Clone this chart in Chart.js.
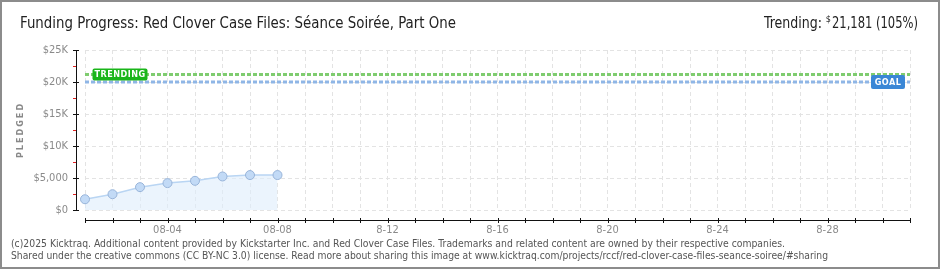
<!DOCTYPE html>
<html>
<head>
<meta charset="utf-8">
<script src="https://cdn.jsdelivr.net/npm/chart.js@4"></script>
<style>
  html, body { margin: 0; padding: 0; background: #fff; }
  #wrap { width: 940px; height: 270px; position: relative; }
</style>
</head>
<body>
<div id="wrap"><canvas id="chart" width="940" height="270"></canvas></div>
<script>
'use strict';

// ===== DATA =====
const days = [];
for (let d = 1; d <= 31; d++) days.push('08-' + String(d).padStart(2, '0'));

const pledged = [1680, 2470, 3570, 4200, 4560, 5240, 5460, 5460];
const goal = 20000;
const trending = 21181;

const yTickLabels = ['$0', '$5,000', '$10K', '$15K', '$20K', '$25K'];
const xTickLabels = ['08-04', '08-08', '8-12', '8-16', '8-20', '8-24', '8-28'];

const titleText = 'Funding Progress: Red Clover Case Files: Séance Soirée, Part One';
const footerLines = [
  '(c)2025 Kicktraq. Additional content provided by Kickstarter Inc. and Red Clover Case Files. Trademarks and related content are owned by their respective companies.',
  'Shared under the creative commons (CC BY-NC 3.0) license. Read more about sharing this image at www.kicktraq.com/projects/rccf/red-clover-case-files-seance-soiree/#sharing'
];

const AXIS_FONT = "'DejaVu Sans Condensed', 'DejaVu Sans', sans-serif";

// ===== DECORATION PLUGIN =====
function drawTag(ctx, text, cx, cy, w, h, color) {
  ctx.save();
  ctx.fillStyle = color;
  ctx.beginPath();
  ctx.roundRect(cx - w / 2, cy - h / 2, w, h, 2);
  ctx.fill();
  ctx.fillStyle = '#fff';
  ctx.font = 'bold 9px ' + AXIS_FONT;
  ctx.textAlign = 'center';
  ctx.textBaseline = 'middle';
  ctx.letterSpacing = '0.5px';
  ctx.fillText(text, cx, cy + 0.5);
  ctx.restore();
}

const kicktraqDecor = {
  id: 'kicktraqDecor',
  afterDraw(chart) {
    const ctx = chart.ctx;
    const xs = chart.scales.x;
    const ys = chart.scales.y;
    const area = chart.chartArea;

    ctx.save();

    // axes (black lines + ticks)
    const axisX = area.left - 9;
    ctx.strokeStyle = '#111';
    ctx.lineWidth = 1;
    ctx.beginPath();
    ctx.moveTo(axisX + 0.5, ys.getPixelForValue(25000));
    ctx.lineTo(axisX + 0.5, ys.getPixelForValue(0));
    ys.ticks.forEach(t => {
      const y = Math.round(ys.getPixelForValue(t.value)) + 0.5;
      ctx.moveTo(axisX - 3, y);
      ctx.lineTo(axisX + 3, y);
    });
    ctx.stroke();
    ctx.strokeStyle = '#e02020';
    ctx.beginPath();
    for (let v = 2500; v < 25000; v += 5000) {
      const y = Math.round(ys.getPixelForValue(v)) + 0.5;
      ctx.moveTo(axisX - 3, y);
      ctx.lineTo(axisX, y);
    }
    ctx.stroke();

    const axisY = area.bottom + 10;
    ctx.strokeStyle = '#111';
    ctx.beginPath();
    ctx.moveTo(area.left, axisY + 0.5);
    ctx.lineTo(area.right, axisY + 0.5);
    days.forEach((d, i) => {
      const x = Math.round(xs.getPixelForValue(i)) + 0.5;
      ctx.moveTo(x, axisY - 2);
      ctx.lineTo(x, axisY + 3);
    });
    ctx.stroke();

    // tags
    drawTag(ctx, 'TRENDING', area.left + 35, ys.getPixelForValue(trending), 55, 12, '#1ab51a');
    drawTag(ctx, 'GOAL', area.right - 22, ys.getPixelForValue(goal), 34, 14, '#3a87d6');

    // title + trending text
    ctx.fillStyle = '#222';
    ctx.textBaseline = 'alphabetic';
    ctx.font = '15px ' + AXIS_FONT;
    ctx.textAlign = 'left';
    ctx.fillText(titleText, 20, 28, 436);

    ctx.textAlign = 'right';
    const tail = '21,181 (105%)';
    ctx.fillText(tail, 918, 28, 86);
    const tailW = Math.min(ctx.measureText(tail).width, 86);
    ctx.font = '9px ' + AXIS_FONT;
    ctx.fillText('$', 918 - tailW - 1, 22);
    ctx.font = '15px ' + AXIS_FONT;
    ctx.fillText('Trending:', 918 - tailW - 10, 28, 58);

    // PLEDGED
    ctx.save();
    ctx.translate(23, (area.top + area.bottom) / 2);
    ctx.rotate(-Math.PI / 2);
    ctx.fillStyle = '#888';
    ctx.font = 'bold 9px ' + AXIS_FONT;
    ctx.letterSpacing = '2px';
    ctx.textAlign = 'center';
    ctx.fillText('PLEDGED', 0, 0);
    ctx.restore();

    // footer
    ctx.fillStyle = '#555';
    ctx.textAlign = 'left';
    ctx.font = "10px 'DejaVu Sans', sans-serif";
    ctx.fillText(footerLines[0], 11, 247, 774);
    ctx.fillText(footerLines[1], 11, 259, 817);

    // frame
    ctx.strokeStyle = '#8c8c8c';
    ctx.lineWidth = 2;
    ctx.strokeRect(1, 1, 938, 267);

    ctx.restore();
  }
};

// ===== CHART =====
new Chart(document.getElementById('chart'), {
  type: 'line',
  data: {
    labels: days,
    datasets: [
      {
        label: 'Pledged',
        data: pledged,
        borderColor: '#b9d5f3',
        borderWidth: 1.5,
        backgroundColor: 'rgba(222,236,252,0.6)',
        fill: 'origin',
        tension: 0,
        pointRadius: 4.5,
        pointBackgroundColor: '#c2daf6',
        pointBorderColor: '#98b4d9',
        pointBorderWidth: 1,
        order: 1
      },
      {
        label: 'Trending',
        data: days.map(() => trending),
        borderColor: '#7fcc6f',
        borderWidth: 3,
        borderDash: [4, 2],
        pointRadius: 0,
        fill: false,
        order: 2
      },
      {
        label: 'Goal',
        data: days.map(() => goal),
        borderColor: '#8fb6e6',
        borderWidth: 3,
        borderDash: [4, 2],
        pointRadius: 0,
        fill: false,
        order: 3
      }
    ]
  },
  options: {
    responsive: false,
    animation: false,
    devicePixelRatio: 1,
    layout: { padding: { top: 50, right: 30, left: 0, bottom: 0 } },
    plugins: {
      legend: { display: false },
      tooltip: { enabled: false }
    },
    scales: {
      x: {
        type: 'category',
        offset: false,
        afterFit: scale => { scale.height = 60; },
        grid: { color: '#e3e3e3', drawTicks: false },
        border: { display: false, dash: [4, 3] },
        ticks: {
          autoSkip: false,
          maxRotation: 0,
          padding: 14,
          color: '#8a8a8a',
          font: { family: AXIS_FONT, size: 11 },
          callback: (v, i) => ((i + 1) % 4 === 0 ? xTickLabels[(i + 1) / 4 - 1] || '' : '')
        }
      },
      y: {
        min: 0,
        max: 25000,
        afterFit: scale => { scale.width = 85; },
        grid: { color: '#e3e3e3', drawTicks: false },
        border: { display: false, dash: [4, 3] },
        ticks: {
          stepSize: 5000,
          padding: 17,
          color: '#8a8a8a',
          font: { family: AXIS_FONT, size: 11 },
          callback: (v, i) => yTickLabels[i]
        }
      }
    }
  },
  plugins: [kicktraqDecor]
});
</script>
</body>
</html>
